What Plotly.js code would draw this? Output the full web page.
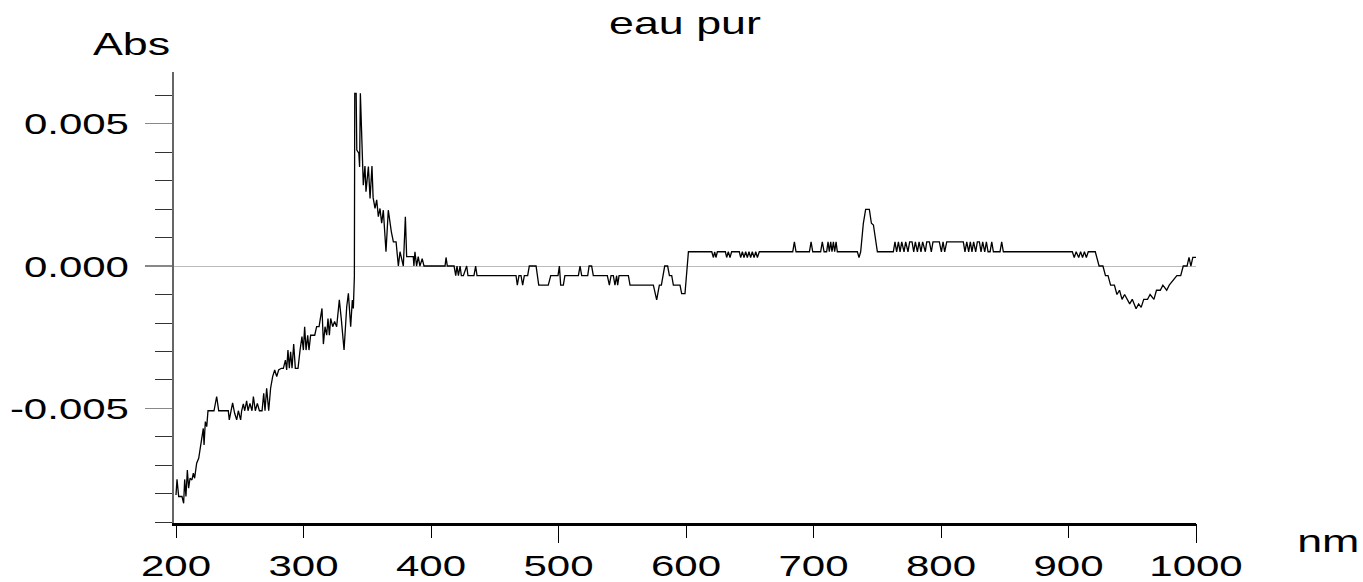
<!DOCTYPE html>
<html>
<head>
<meta charset="utf-8">
<script src="https://cdn.plot.ly/plotly-3.0.1.min.js"></script>
<style>
html,body{margin:0;padding:0;background:#fff;}
#chart{width:1363px;height:582px;}
</style>
</head>
<body>
<div id="chart"></div>
<script>
// Wavelength (nm) and absorbance (mAbs), in segments
const wlUV = [200.0,200.8,202.1,204.7,206.0,206.8,207.8,208.9,209.9,211.0,212.5,213.6,214.6,216.2,217.8,219.1,220.7,221.4,222.0,223.0,224.1,225.1,229.8,231.9,233.5,241.0,241.8,242.9,244.4,246.0,247.6,248.9,250.7,251.5,252.8,253.9,255.4,256.5,258.0,259.6,260.7,262.2,263.8,265.4,267.5,268.8,269.8,271.1,272.7,274.2,275.8,277.4,279.0,280.5,282.6,284.2,285.8,286.8,287.8,288.9,289.9,291.0,292.3,293.6,295.7,297.3,298.8,299.9,300.9,302.0,303.3,304.3,305.6,308.8,310.3,312.2,313.5,314.5,315.6,316.9,318.2,319.2,320.3,321.3,322.9,324.4,326.0,328.1,329.7,331.8,333.9,335.2,337.0,338.3,339.1,339.9];
const absUV = [-8.04,-7.49,-8.09,-8.09,-8.33,-7.49,-8.09,-7.16,-7.80,-7.45,-7.51,-7.27,-7.45,-6.92,-6.75,-6.34,-5.75,-5.70,-6.28,-5.46,-5.64,-5.08,-5.08,-4.58,-5.08,-5.08,-5.40,-5.08,-4.80,-5.17,-5.40,-5.08,-5.40,-5.08,-4.84,-5.08,-4.73,-5.08,-4.82,-5.08,-4.58,-5.08,-4.82,-5.08,-5.08,-4.47,-5.08,-4.29,-5.08,-4.29,-3.88,-3.65,-3.88,-3.65,-3.59,-3.59,-3.30,-3.65,-2.95,-3.59,-3.01,-3.59,-2.74,-3.59,-3.59,-2.95,-2.48,-2.95,-2.13,-2.95,-2.43,-2.95,-2.43,-2.43,-2.13,-2.13,-1.84,-1.49,-2.74,-2.13,-2.43,-1.84,-2.43,-1.84,-2.13,-1.95,-2.13,-1.19,-1.89,-2.95,-1.43,-0.96,-2.13,-1.19,-1.49,-0.37];

const wlPeak = [340.2,341.3,341.8,343.4,344.0,344.6,346.9,348.2,349.0,350.9,352.2,353.7,354.6,356.1,357.4,358.7,360.0,361.3,362.6,364.7,366.5,367.8,368.9,370.5,372.6,374.4,375.7,378.3,379.9,380.9,386.1,386.6,387.4,388.7,390.0,391.3,393.1,394.5,400.0];
const absPeak = [6.06,6.06,4.07,3.96,3.48,6.06,2.84,3.51,2.61,3.49,2.37,3.51,2.40,2.02,2.32,1.73,2.02,1.50,1.96,0.50,1.96,1.50,1.20,0.85,0.85,0.00,0.50,0.00,1.73,0.33,0.33,0.00,0.50,0.00,0.33,0.00,0.26,0.00,0.00];

const wlVis = [411.0,411.8,412.8,418.1,419.4,420.4,421.5,422.8,423.8,425.4,428.0,429.0,433.7,435.0,436.1,466.7,467.7,469.0,470.6,471.9,473.2,475.8,477.1,482.4,484.5,492.0,493.9,499.6,500.7,501.7,503.8,505.0,515.6,516.9,518.2,522.9,524.0,526.0,527.3,538.3,539.9,541.2,543.0,544.3,545.6,546.4,547.5,554.8,556.1,574.4,577.0,579.1,580.7,583.3,585.6,587.0,588.8,590.1,595.3,596.6,599.2,601.9];
const absVis = [0.00,0.30,0.00,0.00,-0.34,0.00,-0.34,0.00,-0.34,-0.34,0.00,-0.34,-0.34,0.00,-0.34,-0.34,-0.67,-0.34,-0.34,-0.67,-0.34,-0.34,0.00,0.00,-0.67,-0.67,-0.34,-0.34,0.00,-0.67,-0.67,-0.34,-0.34,0.00,-0.34,-0.34,0.00,0.00,-0.34,-0.34,-0.67,-0.34,-0.34,-0.67,-0.34,-0.67,-0.34,-0.34,-0.67,-0.67,-1.19,-0.67,-0.67,0.00,0.00,-0.34,-0.34,-0.67,-0.67,-0.97,-0.97,0.50];

const wlRed = [620.2,621.5,622.5,623.5,624.6,630.9,631.9,633.2,634.5,635.8,641.8,642.9,644.2,645.5,646.8,648.1,649.4,650.7,652.0,653.4,654.7,656.0,657.5,683.7,685.0,686.3,696.8,698.1,699.4,705.6,706.9,708.3,710.3,711.4,712.4,713.5,714.5,715.6,716.6,717.7,718.7,734.4,735.7,737.0,739.1,740.9,743.8,745.4,747.0,750.1,762.6,763.9,765.2,766.6,767.9,769.2,771.0,772.3,774.1,775.4,777.3,778.6,779.9,781.5,782.8,784.3,785.6,787.7,788.8,790.9,792.4,793.7,798.7,800.3,801.6,802.9,804.5,817.5,818.8,820.2,821.7,823.0,824.3,825.6,827.2,828.5,830.1,831.4,832.7,834.3,835.6,836.9,838.5,839.8,841.1,846.3,847.6,848.9];
const absRed = [0.50,0.30,0.50,0.30,0.50,0.50,0.30,0.50,0.30,0.50,0.50,0.30,0.50,0.30,0.50,0.30,0.50,0.30,0.50,0.30,0.50,0.30,0.50,0.50,0.85,0.50,0.50,0.85,0.50,0.50,0.85,0.50,0.50,0.85,0.50,0.85,0.50,0.85,0.50,0.85,0.50,0.50,0.30,0.50,1.50,1.99,1.99,1.50,1.44,0.50,0.50,0.85,0.50,0.85,0.50,0.85,0.50,0.85,0.50,0.85,0.85,0.50,0.85,0.50,0.85,0.50,0.85,0.50,0.85,0.85,0.50,0.85,0.85,0.50,0.85,0.50,0.85,0.85,0.50,0.85,0.50,0.85,0.50,0.85,0.50,0.85,0.85,0.50,0.85,0.50,0.85,0.50,0.50,0.85,0.50,0.50,0.85,0.50];

const wlNIR = [903.0,904.5,906.0,908.0,909.5,911.0,912.5,914.0,915.5,921.0,922.0,924.0,927.0,929.0,931.0,933.0,936.0,938.0,940.0,942.0,944.0,946.0,948.0,950.0,953.0,955.0,957.0,959.0,962.0,964.0,967.0,969.0,972.0,974.0,977.0,979.0,982.0,985.0,988.0,990.0,993.0,994.5,996.0,997.5,1000.0];
const absNIR = [0.50,0.30,0.50,0.30,0.50,0.30,0.50,0.30,0.50,0.50,0.30,0.00,0.00,-0.34,-0.34,-0.67,-0.67,-1.00,-0.85,-1.17,-1.00,-1.17,-1.33,-1.17,-1.50,-1.33,-1.45,-1.17,-1.17,-1.00,-1.17,-0.85,-0.85,-0.67,-0.85,-0.67,-0.50,-0.34,-0.34,0.00,0.00,0.30,0.00,0.30,0.30];

const title = 'eau pur';
const yTitle = 'Abs';
const xTitle = 'nm';
const xTickVals = [200,300,400,500,600,700,800,900,1000];
const xLongTicks = [500,1000];
const yTickVals = [-0.005,0,0.005];
const yTickText = ['-0.005','0.000','0.005'];

const wl = [].concat(wlUV, wlPeak, wlVis, wlRed, wlNIR);
const absMilli = [].concat(absUV, absPeak, absVis, absRed, absNIR);
const absorbance = absMilli.map(v => v / 1000);

const FONT = 'Liberation Sans, Arial, sans-serif';

const traces = [
  {x: wl, y: absorbance, type: 'scatter', mode: 'lines',
   line: {color: '#000', width: 1.3}, hoverinfo: 'skip', showlegend: false},
  {x: [], y: [], xaxis: 'x2', yaxis: 'y', type: 'scatter', mode: 'lines', showlegend: false, hoverinfo: 'skip'}
];

const layout = {
  width: 1363, height: 582,
  margin: {l: 174, r: 167, t: 72, b: 59},
  paper_bgcolor: '#fff', plot_bgcolor: '#fff',
  showlegend: false,
  font: {family: FONT, color: '#000'},
  title: {text: title, font: {family: FONT, size: 32, color: '#000'},
          x: 0.5, xref: 'paper', xanchor: 'center', y: 1 - 23 / 582, yref: 'container', yanchor: 'middle'},
  xaxis: {
    range: [198.43, 1000], tickmode: 'array', tickvals: xTickVals,
    ticks: 'outside', ticklen: 12, tickwidth: 1, tickcolor: '#000',
    showline: true, linecolor: '#000', linewidth: 3,
    showgrid: false, zeroline: false,
    tickfont: {family: FONT, size: 30, color: '#000'}, ticklabelstandoff: 2
  },
  xaxis2: {
    range: [198.43, 1000], overlaying: 'x', anchor: 'y', side: 'bottom',
    tickmode: 'array', tickvals: xLongTicks, ticks: 'outside', ticklen: 19, tickwidth: 1, tickcolor: '#000',
    showticklabels: false, showline: false, showgrid: false, zeroline: false
  },
  yaxis: {
    range: [-0.00902, 0.00681], tickmode: 'array', tickvals: yTickVals, ticktext: yTickText,
    ticks: 'outside', ticklen: 27, tickwidth: 1.5, tickcolor: '#888',
    minor: {tickmode: 'linear', tick0: 0, dtick: 0.001, ticks: 'outside', ticklen: 17, tickwidth: 1, tickcolor: '#333', showgrid: false},
    showline: true, linecolor: '#666', linewidth: 2,
    showgrid: false, zeroline: true, zerolinecolor: '#bbb', zerolinewidth: 1,
    tickfont: {family: FONT, size: 30, color: '#000'}, ticklabelstandoff: 10
  },
  annotations: [
    {text: yTitle, xref: 'paper', yref: 'paper', x: (131 - 174) / 1022, y: (523 - 44) / 451,
     xanchor: 'center', yanchor: 'middle', showarrow: false, font: {family: FONT, size: 32, color: '#000'}},
    {text: xTitle, xref: 'paper', yref: 'paper', x: (1327.5 - 174) / 1022, y: (523 - 541) / 451,
     xanchor: 'center', yanchor: 'middle', showarrow: false, font: {family: FONT, size: 32, color: '#000'}}
  ]
};

Plotly.newPlot('chart', traces, layout, {displayModeBar: false, staticPlot: true}).then(gd => {
  // reference lettering is horizontally stretched
  gd.querySelectorAll('svg text').forEach(t => {
    if (!t.textContent.trim()) return;
    const L = t.getComputedTextLength();
    if (L > 0) {
      t.setAttribute('textLength', (L * 1.4).toFixed(1));
      t.setAttribute('lengthAdjust', 'spacingAndGlyphs');
    }
  });
});
</script>
</body>
</html>
